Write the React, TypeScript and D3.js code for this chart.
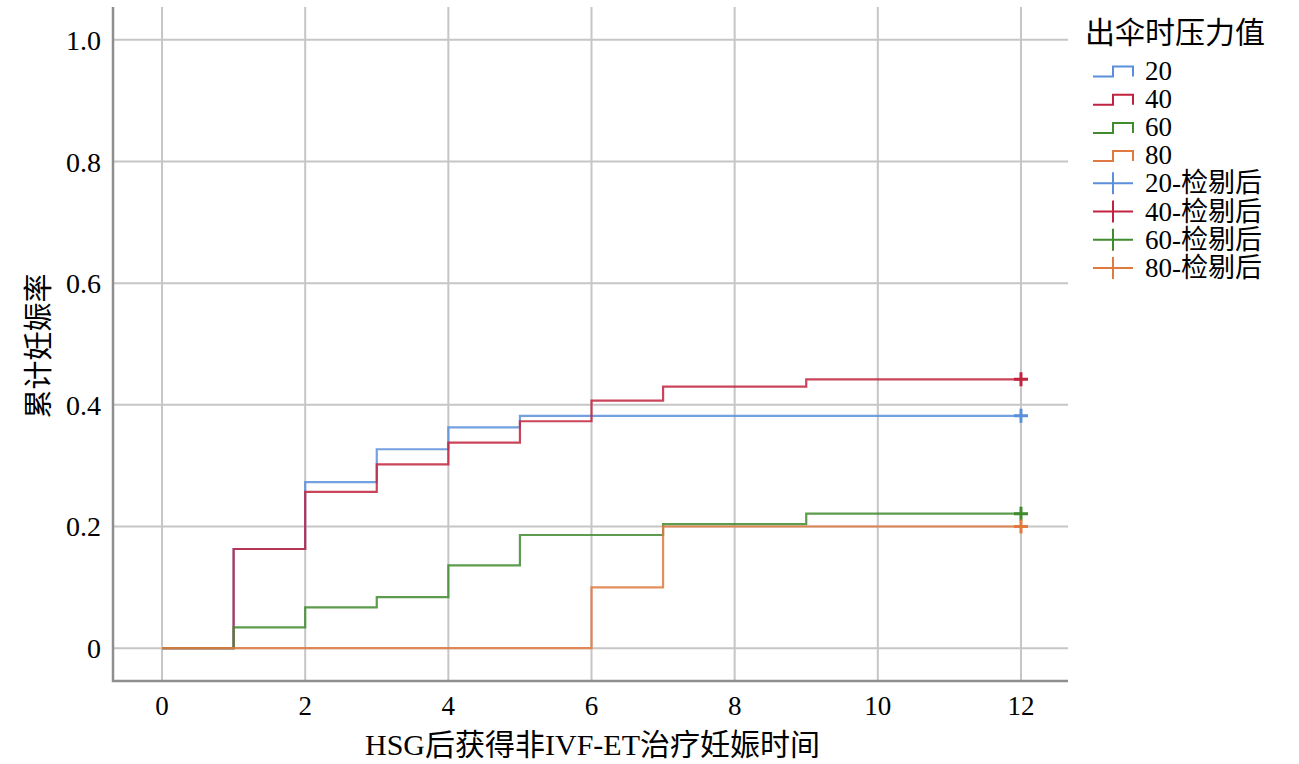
import { useEffect, useRef } from 'react';
import * as d3 from 'd3';

// Kaplan-Meier style cumulative pregnancy rates, by pressure group
const groups = ['20', '40', '60', '80'];
const colors = ['#5b8fdc', '#c1233e', '#3f8b2e', '#e07a40'];

const times20 = [0, 1, 2, 3, 4, 5, 12];
const cum20 = [0, 0.163, 0.273, 0.327, 0.363, 0.382, 0.382];

const times40 = [0, 1, 2, 3, 4, 5, 6, 7, 9, 12];
const cum40 = [0, 0.163, 0.257, 0.302, 0.338, 0.373, 0.407, 0.43, 0.442, 0.442];

const times60 = [0, 1, 2, 3, 4, 5, 7, 9, 12];
const cum60 = [0, 0.034, 0.067, 0.084, 0.136, 0.186, 0.204, 0.221, 0.221];

const times80 = [0, 6, 7, 12];
const cum80 = [0, 0.1, 0.2, 0.2];

const censorTime = 12;

const xTicks = [0, 2, 4, 6, 8, 10, 12];
const yTicks = [0, 0.2, 0.4, 0.6, 0.8, 1.0];
const yTickLabels = ['0', '0.2', '0.4', '0.6', '0.8', '1.0'];

const legendTitle = '出伞时压力值';
const censorSuffix = '-检剔后';
const xTitle = 'HSG后获得非IVF-ET治疗妊娠时间';
const yTitle = '累计妊娠率';

const FONT = '"Liberation Serif", "Times New Roman", "Noto Sans CJK SC", serif';

export default function App() {
  const svgRef = useRef<SVGSVGElement>(null);
  const width = 1299;
  const height = 764;

  useEffect(() => {
    if (!svgRef.current) return;
    document.body.style.margin = '0';

    const svg = d3.select(svgRef.current);
    svg.selectAll('*').remove();

    const left = 113, right = 1068, top = 7, bottom = 681;

    const x = d3.scaleLinear().domain([-0.685, 12.657]).range([left, right]);
    const y = d3.scaleLinear().domain([-0.054, 1.054]).range([bottom, top]);

    const series = [
      { times: times20, cum: cum20 },
      { times: times40, cum: cum40 },
      { times: times60, cum: cum60 },
      { times: times80, cum: cum80 },
    ];

    // Grid
    const grid = svg.append('g');
    grid.selectAll('.vg')
      .data(xTicks)
      .enter()
      .append('line')
      .attr('x1', d => x(d)).attr('x2', d => x(d))
      .attr('y1', top).attr('y2', bottom)
      .attr('stroke', '#c6c6c6')
      .attr('stroke-width', 2);
    grid.selectAll('.hg')
      .data(yTicks)
      .enter()
      .append('line')
      .attr('x1', left).attr('x2', right)
      .attr('y1', d => y(d)).attr('y2', d => y(d))
      .attr('stroke', '#c6c6c6')
      .attr('stroke-width', 2);

    // Axis lines
    svg.append('path')
      .attr('d', `M${left},${top}V${bottom}H${right}`)
      .attr('fill', 'none')
      .attr('stroke', '#8e8e8e')
      .attr('stroke-width', 2.5);

    // Tick labels
    svg.append('g')
      .selectAll('text')
      .data(xTicks)
      .enter()
      .append('text')
      .attr('x', d => x(d))
      .attr('y', 715)
      .attr('text-anchor', 'middle')
      .attr('font-family', FONT)
      .attr('font-size', 27)
      .text(d => String(d));

    svg.append('g')
      .selectAll('text')
      .data(yTicks)
      .enter()
      .append('text')
      .attr('x', 101)
      .attr('y', d => y(d) + 10)
      .attr('text-anchor', 'end')
      .attr('font-family', FONT)
      .attr('font-size', 28)
      .text((_, i) => yTickLabels[i]);

    // Axis titles
    svg.append('text')
      .attr('x', (left + right) / 2 + 2)
      .attr('y', 755)
      .attr('text-anchor', 'middle')
      .attr('font-family', FONT)
      .attr('font-size', 30)
      .text(xTitle);

    svg.append('text')
      .attr('transform', `translate(49, ${(top + bottom) / 2 + 2}) rotate(-90)`)
      .attr('text-anchor', 'middle')
      .attr('font-family', FONT)
      .attr('font-size', 29)
      .text(yTitle);

    // Step lines
    const line = d3.line<[number, number]>()
      .x(d => x(d[0]))
      .y(d => y(d[1]))
      .curve(d3.curveStepAfter);

    series.forEach((s, i) => {
      const pts: [number, number][] = s.times.map((t, j) => [t, s.cum[j]]);
      svg.append('path')
        .attr('d', line(pts))
        .attr('fill', 'none')
        .attr('stroke', colors[i])
        .attr('stroke-width', 2.2)
        .attr('stroke-opacity', 0.85);
    });

    // Censor markers
    series.forEach((s, i) => {
      const cx = x(censorTime);
      const cy = y(s.cum[s.cum.length - 1]);
      svg.append('path')
        .attr('d', `M${cx - 7},${cy}H${cx + 7}M${cx},${cy - 7}V${cy + 7}`)
        .attr('stroke', colors[i])
        .attr('stroke-width', 3);
    });

    // Legend
    const lg = svg.append('g');
    lg.append('text')
      .attr('x', 1085)
      .attr('y', 43)
      .attr('font-family', FONT)
      .attr('font-size', 30)
      .text(legendTitle);

    const entries = [
      ...groups.map((g, i) => ({ label: g, color: colors[i], kind: 'step' })),
      ...groups.map((g, i) => ({ label: g + censorSuffix, color: colors[i], kind: 'plus' })),
    ];

    entries.forEach((e, i) => {
      const cy = 70.5 + i * 28.2;
      const d = e.kind === 'step'
        ? `M1093,${cy + 6}H1113V${cy - 4}H1133V${cy + 6}`
        : `M1093,${cy}H1133M1113,${cy - 11}V${cy + 11}`;
      lg.append('path')
        .attr('d', d)
        .attr('fill', 'none')
        .attr('stroke', e.color)
        .attr('stroke-width', 2);
      lg.append('text')
        .attr('x', 1145)
        .attr('y', cy + 9)
        .attr('font-family', FONT)
        .attr('font-size', 27)
        .text(e.label);
    });
  }, []);

  return (
    <svg
      ref={svgRef}
      width={width}
      height={height}
      style={{ display: 'block', background: '#fff' }}
    ></svg>
  );
}
